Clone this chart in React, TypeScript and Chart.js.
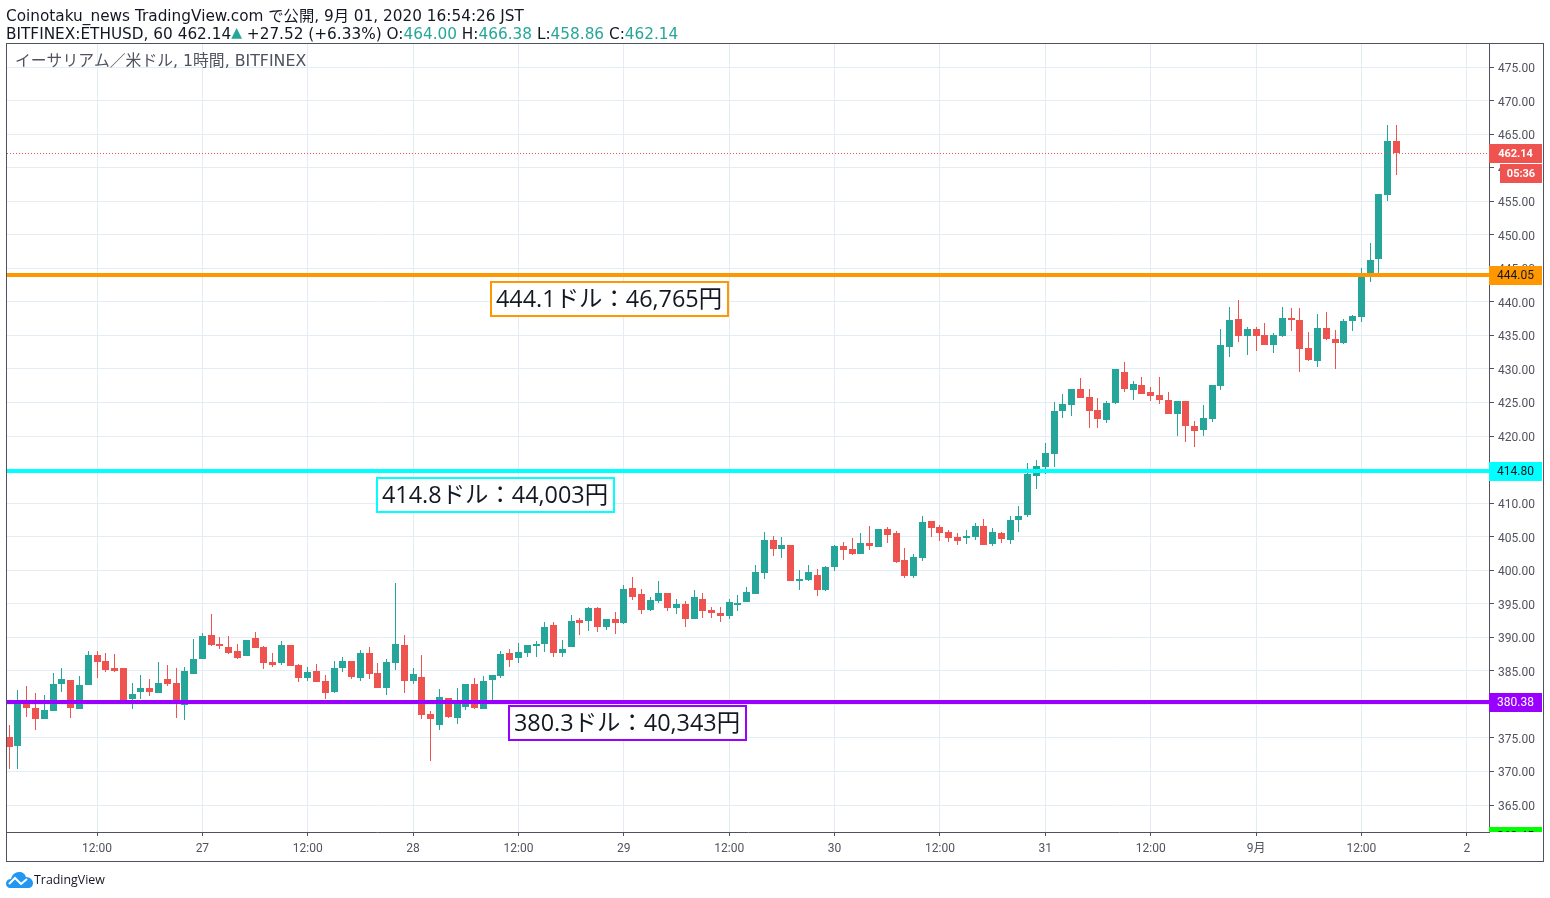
import React, { useEffect, useRef } from "react";
import { Chart, registerables } from "chart.js";

Chart.register(...registerables);

const opens = [375.1,373.8,380,379.45,377.8,379,383,383.6,379.3,382.9,
387.35,386.45,385.4,385.4,380.8,381.85,382.45,381.7,383.8,383.2,
379.9,384.5,386.75,390.3,389,388.55,387.95,387.2,389.9,388.6,
386.35,386.2,388.9,385.9,384,385,383.5,381.9,385.45,386.5,
384,387.7,384.7,382.5,386.2,388.9,383.5,384.1,378.6,376.95,
381,378,379.65,383.1,379.35,383.7,384.25,387.7,386.96,387.7,
388.75,389.05,391.9,387.7,388.6,392.6,392.5,394.4,391.6,392.8,
392.2,397.4,396.5,394.1,395.45,396.65,394.4,395,392.8,395.75,
394.1,393.65,393.2,394.85,395.3,396.5,399.65,404.55,403.2,403.8,
398.45,398.6,399.35,397.1,400.5,403.65,403.2,402.45,404.1,403.5,
406.2,405.6,401.55,399.2,401.85,407.4,406.5,405.75,405,404.85,
405,406.65,403.95,405.6,404.55,407.55,408.3,414.1,415.45,417.25,
423.8,424.55,427.05,425.75,423.95,422.45,424.85,429.6,426.9,427.65,
426.5,426.05,425.3,423.35,425.15,421.55,420.95,422.6,427.5,433.3,
437.5,434.95,436,435.1,433.5,434.95,437.65,437.35,433.05,431.25,
436.15,434.5,433.9,437.2,437.8,444.35,446.45,455.85,464];

const closes = [373.65,380,379.45,377.8,379.15,383,383.8,379.45,382.9,387.35,
386.3,385.1,385,380.6,381.55,382.45,381.85,383.2,383,380.6,
385,386.75,390.2,388.85,388.7,387.65,386.9,389.6,388.45,386.2,
385.9,388.9,385.75,384,384.9,383.4,381.75,385.45,386.5,384.1,
387.7,384.55,382.5,386.35,389,383.5,384.55,378.45,377.85,381.15,
378.15,380.7,383.1,379.5,383.5,384.4,387.55,386.66,387.85,388.9,
389.05,391.6,387.7,388.3,392.45,392.2,394.4,391.6,392.8,392.2,
397.25,396.05,394.1,395.6,396.65,394.4,395,392.8,396.05,393.95,
393.65,393.2,395.3,395.15,396.8,399.8,404.55,403.2,403.8,398.45,
398.75,399.8,397.1,400.5,403.65,403.05,402.45,404.1,403.65,406.2,
405.3,401.25,399.2,402,407.25,406.35,405.6,404.85,404.4,405.15,
406.65,403.8,405.75,404.7,407.55,408.15,414.4,415.6,417.4,423.8,
424.7,427.05,425.6,423.8,422.6,424.85,430,427.05,427.8,426.3,
425.9,425.3,423.35,425.15,421.55,420.8,422.75,427.65,433.5,437.35,
434.95,436,434.95,433.5,435.1,437.65,437.35,432.9,431.4,436.15,
434.5,433.9,437.2,437.95,444.05,446.3,456,463.9,462.14];

const highs = [376.9,382.1,382.7,381.7,381.4,384.7,385.4,383.6,384.2,388,
388,387.65,387.5,385.4,383.2,384.4,383.8,386.3,385.85,385.4,
385.55,389.75,390.6,393.45,390,390.2,389,389.6,390.8,388.75,
387.7,389.5,388.9,386.05,385.6,386.05,384.4,386.5,387.1,386.5,
388.15,388.6,386.2,386.8,398.1,390.4,385.45,387.4,379.05,382.35,
381,382.5,383.1,384,384.25,384.4,388,388.3,389.2,388.9,
389.5,392.3,392.3,389.65,393.35,392.9,394.55,394.55,392.8,393.8,
397.85,399.05,397.25,396.05,398.45,396.65,395.75,395.45,397.1,396.65,
394.55,394.55,395.75,396.35,397.55,400.8,405.75,405.15,405,403.8,
400.1,400.85,400.25,400.7,403.8,404.25,404.85,405.6,406.65,406.2,
406.5,405.9,403.35,402.45,408.15,407.4,406.8,406.05,405.6,406.05,
407.1,407.7,406.35,405.75,408.15,409.6,416.05,416.5,419,425,
426.3,427.05,428.7,427.05,425.6,425.15,430,431.1,428.25,428.85,
427.35,428.85,426.6,425.15,425.15,422.3,424.55,427.65,436,439.3,
440.2,436.3,436.3,436.9,435.4,439.3,439.15,439.15,435.55,438.25,
438.55,435.85,437.5,438.1,445.1,448.7,456,466.38,466.38];

const lows = [370.35,370.4,378.1,376.2,377.8,379,381.8,378,379.3,382.9,
383.9,384.8,384.8,380.5,379.3,380.8,381.25,381.7,382.7,378,
377.7,384.5,386.75,388.7,388.25,387.5,386.75,387.2,388.4,385.3,
385.6,385.9,385.75,383.4,383.5,383.4,380.85,381.75,384.85,383.8,
383.5,383.8,382.5,381.45,385.15,381.75,383.1,377.85,371.6,376.2,
378,377.1,379.2,379.35,379.35,380.7,384,385.6,386.2,387.1,
387,387.85,387.1,387,388.6,390.4,391,390.85,391.15,390.55,
392.05,395.6,393.5,393.95,395.15,393.95,393.5,391.6,392.8,392.9,
392.9,392.3,392.75,393.95,395.3,396.5,398.75,402.15,401.85,398.45,
397.1,398.45,396.2,396.95,399.95,401.55,402.3,402.45,403.05,403.5,
404.1,401,398.9,398.9,401.4,405,404.4,404.25,403.8,403.95,
404.55,403.8,403.65,404.1,403.95,405.75,408,412.15,414.4,415.45,
422.75,423.05,425.6,421.25,421.25,422,424.7,426.5,425.3,426.3,
425.15,424.7,423.35,420.05,419.15,418.4,420.05,422.15,426.9,431.85,
434.05,432.15,432.6,433.5,432.3,434.8,435.7,429.6,431.25,430.35,
434.35,430.05,433.75,435.7,437.05,443,444.35,455.1,458.86];

const xTickIndexes = [10,22,34,46,58,70,82,94,106,118,130,142,154,166];
const xTickLabels = ["12:00","27","12:00","28","12:00","29","12:00","30","12:00","31","12:00","9月","12:00","2"];
const yTickValues = [365,370,375,380,385,390,395,400,405,410,415,420,425,430,435,440,445,450,455,460,465,470,475];

const lastPrice = 462.14;
const levelPrices = [444.05, 414.8, 380.38];
const levelColors = ["#ff9800", "#00ffff", "#9900ff"];
const levelNotes = ["444.1ドル：46,765円", "414.8ドル：44,003円", "380.3ドル：40,343円"];
const offscreenLevel = 360.45;

const GREEN = "#26a69a";
const RED = "#ef5350";
const INK = "#50535e";
const GRID = "#e3edf3";
const XMIN = -0.25;
const XMAX = 168.53;
const YMIN = 360.98;
const YMAX = 478.43;
const FONT = '"DejaVu Sans", "Noto Sans CJK JP", sans-serif';
const NOTEFONT = '"Open Sans", "Noto Sans CJK JP", sans-serif';
const TICKFONT = 'Roboto, "Noto Sans CJK JP", sans-serif';

const snapPlugin = {
  id: "snap",
  afterDatasetsUpdate(chart: any) {
    chart.data.datasets.forEach((ds: any, i: number) => {
      const meta = chart.getDatasetMeta(i);
      if (ds.type === "bar") {
        meta.data.forEach((el: any) => {
          el.x = Math.floor(el.x) + 0.5;
          el.y = Math.round(el.y);
          el.base = Math.round(el.base);
          if (el.base === el.y) el.base = el.y + 1;
        });
      } else {
        meta.data.forEach((el: any) => {
          el.y = ds.borderWidth === 1 ? Math.floor(el.y) + 0.5 : Math.round(el.y);
        });
      }
    });
  },
  beforeDraw(chart: any) {
    // price labels sit centred on their grid lines
    chart.scales.y.getLabelItems(chart.chartArea).forEach((item: any) => {
      item.options.translation[1] += 2;
    });
  },
};

function tag(ctx: CanvasRenderingContext2D, x0: number, x1: number, yc: number, fill: string, text: string, color: string) {
  ctx.fillStyle = fill;
  ctx.fillRect(x0, yc - 9, x1 - x0, 19);
  ctx.fillStyle = color;
  ctx.textAlign = "center";
  ctx.textBaseline = "middle";
  ctx.fillText(text, (x0 + x1) / 2, yc + 1);
}

const overlayPlugin = {
  id: "overlay",
  afterDraw(chart: any) {
    const { ctx, scales } = chart;
    const y = scales.y;
    const yOf = (p: number) => Math.round(y.getPixelForValue(p));
    ctx.save();

    ctx.strokeStyle = INK;
    ctx.lineWidth = 1;
    ctx.strokeRect(6.5, 43.5, 1537, 818);

    ctx.font = `15.8px ${FONT}`;
    ctx.fillStyle = INK;
    ctx.textAlign = "left";
    ctx.textBaseline = "middle";
    ctx.fillText("イーサリアム／米ドル, 1時間, BITFINEX", 15, 62);

    const boxes = [
      { x: 491, dy: 7 },
      { x: 377, dy: 7 },
      { x: 509, dy: 4 },
    ];
    levelPrices.forEach((p, i) => {
      const top = yOf(p) + boxes[i].dy;
      ctx.fillStyle = "#ffffff";
      ctx.fillRect(boxes[i].x, top, 237, 34);
      ctx.strokeStyle = levelColors[i];
      ctx.lineWidth = 2;
      ctx.strokeRect(boxes[i].x, top, 237, 34);
      ctx.fillStyle = "#131722";
      ctx.font = `23.4px ${NOTEFONT}`;
      ctx.textAlign = "left";
      ctx.textBaseline = "middle";
      ctx.fillText(levelNotes[i], boxes[i].x + 5, top + 18);
    });

    ctx.font = `bold 11px ${TICKFONT}`;
    tag(ctx, 1489, 1542, yOf(lastPrice), RED, lastPrice.toFixed(2), "#ffffff");
    tag(ctx, 1500, 1542, yOf(lastPrice) + 20, RED, "05:36", "#ffffff");
    ctx.font = `12px ${TICKFONT}`;
    tag(ctx, 1489, 1542, yOf(levelPrices[0]), levelColors[0], levelPrices[0].toFixed(2), "#131722");
    tag(ctx, 1489, 1542, yOf(levelPrices[1]), levelColors[1], levelPrices[1].toFixed(2), "#131722");
    tag(ctx, 1489, 1542, yOf(levelPrices[2]), levelColors[2], levelPrices[2].toFixed(2), "#ffffff");

    ctx.save();
    ctx.beginPath();
    ctx.rect(1489, 800, 54, 32);
    ctx.clip();
    tag(ctx, 1489, 1542, yOf(offscreenLevel), "#00ff00", offscreenLevel.toFixed(2), "#131722");
    ctx.restore();

    ctx.restore();
  },
};

export default function App() {
  const ref = useRef<HTMLCanvasElement>(null);

  useEffect(() => {
    if (!ref.current) return;
    const colors = closes.map((c, i) => (c >= opens[i] ? GREEN : RED));
    const hline = (p: number) => [
      { x: XMIN, y: p },
      { x: XMAX, y: p },
    ];
    const datasets: any[] = [
      ...levelPrices.map((p, i) => ({
        type: "line",
        data: hline(p),
        borderColor: levelColors[i],
        borderWidth: 4,
        pointRadius: 0,
        order: 0,
      })),
      {
        type: "line",
        data: hline(lastPrice),
        borderColor: RED,
        borderWidth: 1,
        borderDash: [1, 2],
        pointRadius: 0,
        order: 0,
      },
      {
        type: "bar",
        data: opens.map((o, i) => ({ x: i, y: [o, closes[i]] })),
        backgroundColor: colors,
        barThickness: 7,
        grouped: false,
        inflateAmount: 0,
        order: 1,
      },
      {
        type: "bar",
        data: highs.map((h, i) => ({ x: i, y: [lows[i], h] })),
        backgroundColor: colors,
        barThickness: 1,
        grouped: false,
        inflateAmount: 0,
        order: 2,
      },
    ];
    const chart = new Chart(ref.current, {
      type: "bar",
      data: { datasets },
      plugins: [snapPlugin, overlayPlugin],
      options: {
        animation: false,
        responsive: false,
        devicePixelRatio: 1,
        layout: { padding: { left: 7, top: 44, right: 7, bottom: 37 } },
        plugins: { legend: { display: false }, tooltip: { enabled: false }, title: { display: false } },
        scales: {
          x: {
            type: "linear",
            offset: false,
            min: XMIN,
            max: XMAX,
            afterBuildTicks(scale: any) {
              scale.ticks = xTickIndexes.map((value) => ({ value }));
            },
            afterFit(scale: any) {
              scale.height = 29;
            },
            grid: { offset: false, color: GRID, tickColor: INK, tickLength: 4, lineWidth: 1 },
            border: { color: INK, width: 1 },
            ticks: {
              autoSkip: false,
              maxRotation: 0,
              color: INK,
              padding: 6,
              font: { family: TICKFONT, size: 12 },
              callback: (v: any) => xTickLabels[xTickIndexes.indexOf(Number(v))] ?? "",
            },
          },
          y: {
            type: "linear",
            position: "right",
            min: YMIN,
            max: YMAX,
            afterBuildTicks(scale: any) {
              scale.ticks = yTickValues.map((value) => ({ value }));
            },
            afterFit(scale: any) {
              scale.width = 54;
            },
            grid: { color: GRID, tickColor: INK, tickLength: 5, lineWidth: 1 },
            border: { color: INK, width: 1 },
            ticks: {
              autoSkip: false,
              color: INK,
              padding: 4,
              font: { family: TICKFONT, size: 12 },
              callback: (v: any) => Number(v).toFixed(2),
            },
          },
        },
      } as any,
    } as any);
    return () => chart.destroy();
  }, []);

  const text: React.CSSProperties = {
    position: "absolute",
    left: 6,
    whiteSpace: "pre",
    fontFamily: FONT,
    fontSize: 15.3,
    lineHeight: "17px",
    color: "#131722",
  };
  const val: React.CSSProperties = { color: GREEN };

  return (
    <div style={{ position: "absolute", left: 0, top: 0, width: 1550, height: 898, background: "#fff", overflow: "hidden" }}>
      <canvas ref={ref} width={1550} height={898} style={{ position: "absolute", left: 0, top: 0, display: "block" }} />
      <div style={{ ...text, top: 8 }}>Coinotaku_news TradingView.com で公開, 9月 01, 2020 16:54:26 JST</div>
      <div style={{ ...text, top: 24 }}>
        BITFINEX:ETHUSD, 60 462.14<span style={{ ...val, fontSize: 14, verticalAlign: 2 }}>▲</span> +27.52 (+6.33%) O:
        <span style={val}>464.00</span> H:<span style={val}>466.38</span> L:<span style={val}>458.86</span> C:
        <span style={val}>462.14</span>
      </div>
      <svg style={{ position: "absolute", left: 6, top: 871 }} width="27" height="17" viewBox="0 0 27 17">
        <path d="M0 13 C0 9 3 8 5 8 C6 4 9 1 13 1 C17 1 19 3 20 6 C24 6 27 9 27 12 C27 15 25 17 22 17 L4 17 C2 17 0 15 0 13 Z" fill="#2196f3" />
        <path d="M3 13 L9 7 L15 13 L21 8" fill="none" stroke="#fff" strokeWidth="2" />
      </svg>
      <div style={{ position: "absolute", left: 34, top: 872, fontFamily: '"Open Sans", sans-serif', fontSize: 12.4, lineHeight: "16px", color: "#131722" }}>TradingView</div>
    </div>
  );
}
